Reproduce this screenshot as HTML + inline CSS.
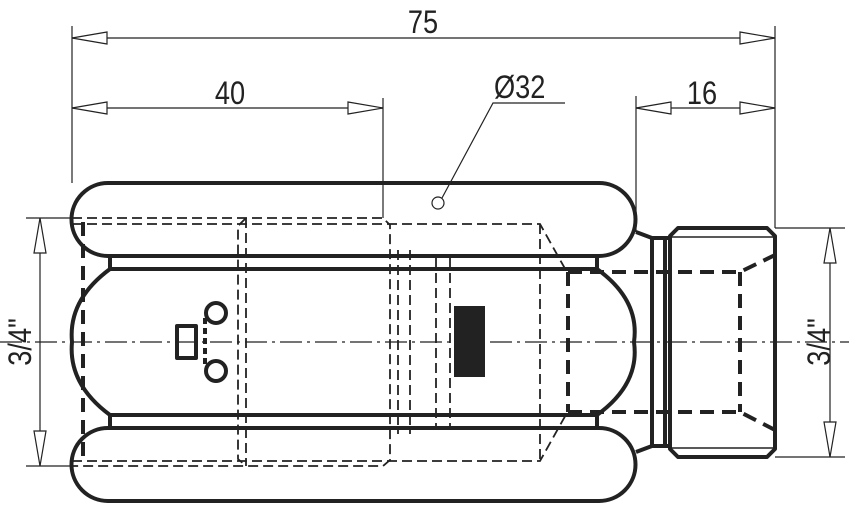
<!DOCTYPE html>
<html><head><meta charset="utf-8"><style>
html,body{margin:0;padding:0;background:#fff;}
svg{display:block}
text{font-family:"Liberation Sans",sans-serif;fill:#222}
</style></head><body>
<svg width="849" height="511" viewBox="0 0 849 511" xmlns="http://www.w3.org/2000/svg">
<g fill="none" stroke="#222" stroke-width="1.2">
  <line x1="72" y1="26" x2="72" y2="183"/>
  <line x1="775" y1="26" x2="775" y2="228"/>
  <line x1="383" y1="98" x2="383" y2="218"/>
  <line x1="636" y1="96" x2="636" y2="232"/>
  <line x1="72" y1="38" x2="775" y2="38"/>
  <path d="M72,38 L107,32 L107,44 Z M775,38 L740,32 L740,44 Z" fill="#fff"/>
  <line x1="72" y1="108" x2="383" y2="108"/>
  <path d="M72,108 L107,102 L107,114 Z M383,108 L348,102 L348,114 Z" fill="#fff"/>
  <line x1="636" y1="108" x2="775" y2="108"/>
  <path d="M636,108 L671,102 L671,114 Z M775,108 L740,102 L740,114 Z" fill="#fff"/>
  <polyline points="565,103 493,103 442,198"/>
  <circle cx="438" cy="203" r="6"/>
  <line x1="26" y1="218" x2="72" y2="218"/>
  <line x1="26" y1="466" x2="72" y2="466"/>
  <line x1="40" y1="218" x2="40" y2="466"/>
  <path d="M40,218 L34,253 L46,253 Z M40,466 L34,431 L46,431 Z" fill="#fff"/>
  <line x1="775" y1="228" x2="845" y2="228"/>
  <line x1="775" y1="457" x2="845" y2="457"/>
  <line x1="830" y1="228" x2="830" y2="457"/>
  <path d="M830,228 L824,263 L836,263 Z M830,457 L824,422 L836,422 Z" fill="#fff"/>
  <line x1="0" y1="342" x2="849" y2="342" stroke-dasharray="22,5,3,5"/>
</g>
<text transform="translate(423,33) scale(0.85,1)" font-size="32" text-anchor="middle">75</text>
<text transform="translate(230,104) scale(0.85,1)" font-size="32" text-anchor="middle">40</text>
<text transform="translate(702,104) scale(0.85,1)" font-size="32" text-anchor="middle">16</text>
<text transform="translate(494,98) scale(0.85,1)" font-size="32">Ø32</text>
<text transform="translate(31,342) rotate(-90) scale(0.85,1)" font-size="32" text-anchor="middle">3/4"</text>
<text transform="translate(830,342) rotate(-90) scale(0.85,1)" font-size="32" text-anchor="middle" dy="0">3/4"</text>

<g fill="none" stroke="#222" stroke-width="4" stroke-linejoin="round">
  <path d="M108,256 L599,256 A36.5,36.5 0 0 0 599,183 L108,183 A36.5,36.5 0 0 0 108,256 Z"/>
  <path d="M108,428 L599,428 A36.5,36.5 0 0 1 599,501 L108,501 A36.5,36.5 0 0 1 108,428 Z"/>
  <path d="M110,269 L597,269 Q640,300 634,342 Q640,384 597,415 L110,415 Q68,384 72,342 Q68,300 110,269 Z"/>
  <line x1="110" y1="256" x2="110" y2="269"/>
  <line x1="110" y1="415" x2="110" y2="428"/>
  <line x1="597" y1="256" x2="597" y2="269"/>
  <line x1="597" y1="415" x2="597" y2="428"/>
  <path d="M636,232 L652,238 L668,238 M636,452 L652,446 L668,446"/>
  <line x1="652" y1="238" x2="652" y2="446"/>
  <line x1="665" y1="238" x2="665" y2="446"/>
  <path d="M678,228 L767,228 L775,236 L775,449 L767,457 L678,457 L670,449 L670,236 Z"/>
  <line x1="670" y1="237" x2="775" y2="237" stroke-width="1.5"/>
  <line x1="670" y1="448" x2="775" y2="448" stroke-width="1.5"/>
  <rect x="454" y="306" width="31" height="71" fill="#222" stroke="none"/>
  <path d="M177,326 L196,326 L196,358 L177,358 Z"/>
  <circle cx="216" cy="313" r="10"/>
  <circle cx="216" cy="371" r="10"/>
  <path d="M205,318 L205,366" stroke-dasharray="6,4"/>
</g>
<g fill="none" stroke="#222" stroke-width="1.8" stroke-dasharray="10,5">
  <path d="M72,218 L383,218 L390,225 L390,460 L383,466 L72,466"/>
  <path d="M72,224 L540,224 L568,274 M72,461 L540,461 L568,411"/>
  <path d="M246,218 L238,226 L238,459 L246,466"/>
  <line x1="246" y1="218" x2="246" y2="466"/>
  <line x1="540" y1="224" x2="540" y2="461"/>
  <line x1="398" y1="250" x2="398" y2="434"/>
  <line x1="410" y1="250" x2="410" y2="434"/>
  <line x1="436" y1="258" x2="436" y2="428"/>
  <line x1="450" y1="258" x2="450" y2="428"/>
</g>
<g fill="none" stroke="#222" stroke-width="4" stroke-dasharray="14,8">
  <line x1="83" y1="222" x2="83" y2="462"/>
  <path d="M568,272 L740,272 L775,255 M568,412 L740,412 L775,430"/>
  <line x1="568" y1="272" x2="568" y2="412"/>
  <line x1="740" y1="272" x2="740" y2="412"/>
</g>
</svg>
</body></html>
